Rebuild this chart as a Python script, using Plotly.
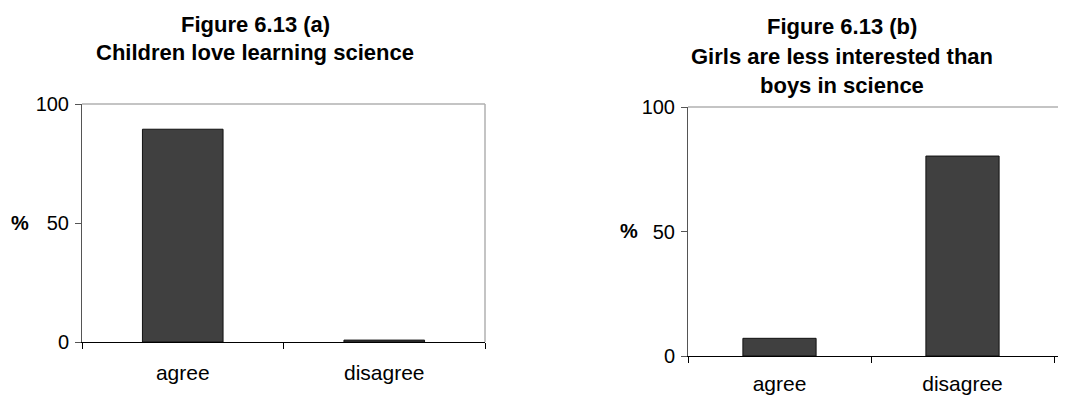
import plotly.graph_objects as go

categories = ["agree", "disagree"]
values_a = [89.4, 0.8]
values_b = [7.1, 80.3]
title_a = ["Figure 6.13 (a)", "Children love learning science"]
title_b = ["Figure 6.13 (b)", "Girls are less interested than", "boys in science"]
y_ticks = [0, 50, 100]

# the page body adds an 8px margin; the figure is sized/offset to fill the 1066x396 window
OFF = 8
W, H = 1066 - OFF, 396 - OFF
FONT = "Liberation Sans, Arial, sans-serif"
BAR = "#404040"

fig = go.Figure()
fig.add_trace(go.Bar(x=categories, y=values_a, width=0.4, marker=dict(color=BAR, line=dict(color="#111", width=1)),
                     xaxis="x", yaxis="y", showlegend=False))
fig.add_trace(go.Bar(x=categories, y=values_b, width=0.4, marker=dict(color=BAR, line=dict(color="#111", width=1)),
                     xaxis="x2", yaxis="y2", showlegend=False))

def px_x(v):
    return (v - OFF) / W

def px_y(v):
    return 1 - (v - OFF) / H

xcommon = dict(type="category", tickson="boundaries", ticks="outside", ticklen=6, tickcolor="#000",
               showline=True, linecolor="#000", linewidth=1, showgrid=False, zeroline=False, automargin=False,
               tickfont=dict(family=FONT, size=21, color="#000"), fixedrange=True)
ycommon = dict(range=[0, 100], tickvals=y_ticks, ticks="outside", ticklen=6, tickcolor="#555",
               showline=True, linecolor="#555", linewidth=1, showgrid=False, zeroline=False, automargin=False,
               tickfont=dict(family=FONT, size=20, color="#000"), ticklabelstandoff=2, fixedrange=True)

# right panel category width 183px, plot extends to image edge
rng_b_end = -0.5 + (1066 - 688) / 183

fig.update_layout(
    template="none",
    width=W, height=H, margin=dict(l=0, r=0, t=0, b=0, autoexpand=False),
    paper_bgcolor="white", plot_bgcolor="white",
    xaxis=dict(domain=[px_x(82), px_x(485)], range=[-0.5, 1.5], anchor="y", ticklabelstandoff=12, **xcommon),
    yaxis=dict(domain=[px_y(342), px_y(104)], anchor="x", **ycommon),
    xaxis2=dict(domain=[px_x(688), 1.0], range=[-0.5, rng_b_end], anchor="y2", ticklabelstandoff=9, **xcommon),
    yaxis2=dict(domain=[px_y(356), px_y(107)], anchor="x2", **ycommon),
    bargap=0.6,
)

# plot-area border (top/right) in light gray
fig.add_shape(type="line", xref="x domain", yref="y domain", x0=0, x1=1, y0=1, y1=1,
              line=dict(color="#b0b0b0", width=1.5))
fig.add_shape(type="line", xref="x domain", yref="y domain", x0=1, x1=1, y0=0, y1=1,
              line=dict(color="#b0b0b0", width=1.5))
fig.add_shape(type="line", xref="x2 domain", yref="y2 domain", x0=0, x1=1, y0=1, y1=1,
              line=dict(color="#b0b0b0", width=1.5))

# titles
for i, t in enumerate(title_a):
    fig.add_annotation(text="<b>%s</b>" % t, x=px_x(255), y=px_y(25 + 27.5 * i), xref="paper", yref="paper",
                       showarrow=False, xanchor="center", yanchor="middle",
                       font=dict(family=FONT, size=22, color="#000"))
for i, t in enumerate(title_b):
    fig.add_annotation(text="<b>%s</b>" % t, x=px_x(842), y=px_y(26 + 30 * i), xref="paper", yref="paper",
                       showarrow=False, xanchor="center", yanchor="middle",
                       font=dict(family=FONT, size=22, color="#000"))

# y-axis "%" labels
fig.add_annotation(text="<b>%</b>", x=px_x(20), y=px_y(223), xref="paper", yref="paper", showarrow=False,
                   xanchor="center", yanchor="middle", font=dict(family=FONT, size=20, color="#000"))
fig.add_annotation(text="<b>%</b>", x=px_x(629), y=px_y(231), xref="paper", yref="paper", showarrow=False,
                   xanchor="center", yanchor="middle", font=dict(family=FONT, size=20, color="#000"))

fig.write_html("out.html", config={"displayModeBar": False})
